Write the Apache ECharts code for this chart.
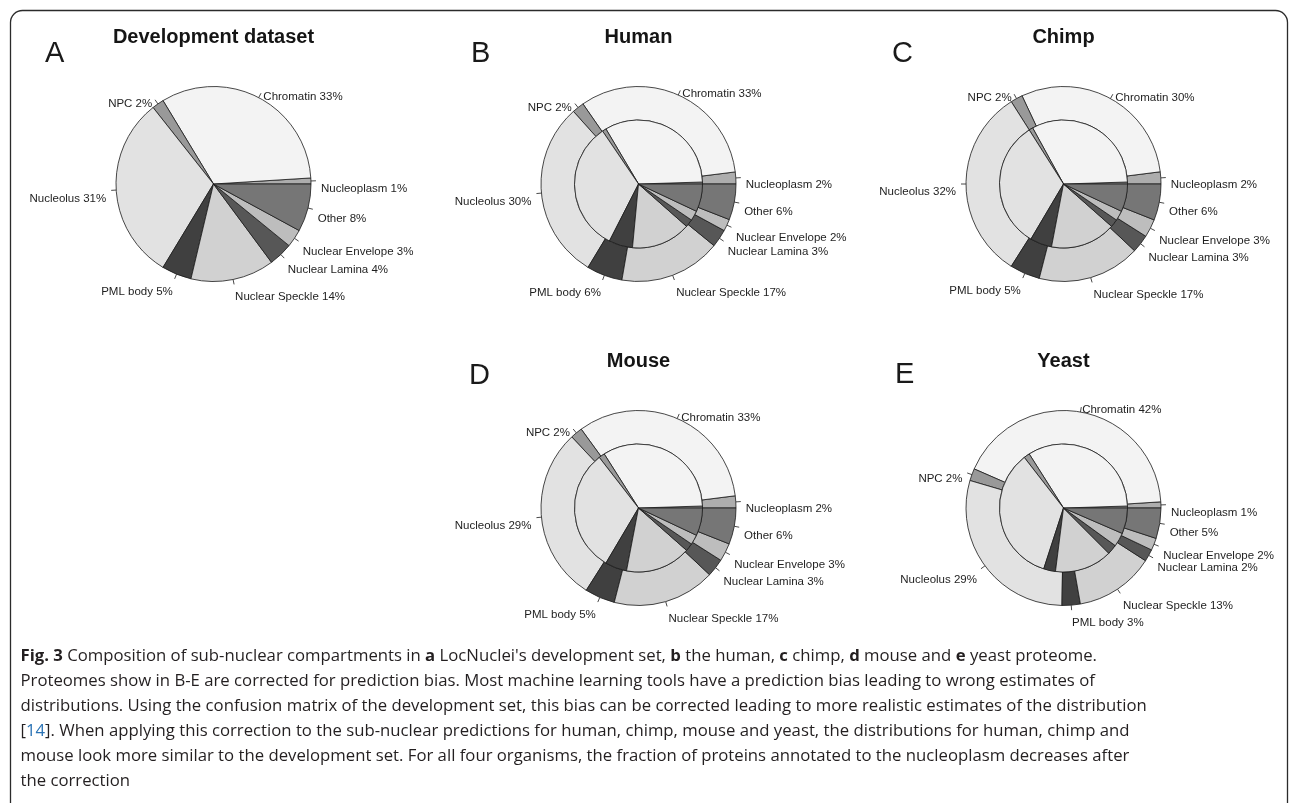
<!DOCTYPE html>
<html>
<head>
<meta charset="utf-8">
<script src="https://cdn.jsdelivr.net/npm/echarts@6/dist/echarts.min.js"></script>
<style>
  html, body { margin: 0; padding: 0; background: #ffffff; }
  #chart { width: 1290px; height: 803px; }
</style>
</head>
<body>
<div id="chart"></div>
<script>
// Sub-nuclear compartments, in the order the slices are laid out
const compartments = ['Nucleoplasm', 'Chromatin', 'NPC', 'Nucleolus', 'PML body',
  'Nuclear Speckle', 'Nuclear Lamina', 'Nuclear Envelope', 'Other'];
const compartmentColors = ['#adadad', '#f3f3f3', '#999999', '#e2e2e2', '#404040',
  '#d1d1d1', '#575757', '#bdbdbd', '#767676'];

// Percentages (outer ring = bias-corrected proteome, inner disc = raw predictions)
const developmentSet  = [1, 33, 2, 31, 5, 14, 4, 3, 8];
const humanCorrected  = [2, 33, 2, 30, 6, 17, 3, 2, 6];
const humanPredicted  = [0.5, 33, 1, 33, 6, 15, 2, 2.5, 7];
const chimpCorrected  = [2, 30, 2, 32, 5, 17, 3, 3, 6];
const chimpPredicted  = [0.5, 32.5, 1, 32.5, 5.5, 16.5, 2, 2.5, 7];
const mouseCorrected  = [2, 33, 2, 29, 5, 17, 3, 3, 6];
const mousePredicted  = [0.5, 33.5, 1.5, 31, 5.5, 16.5, 2, 2.5, 7];
const yeastCorrected  = [1, 42, 2, 29, 3, 13, 2, 2, 5];
const yeastPredicted  = [0.5, 33.5, 1.5, 34.5, 3, 14.5, 2.5, 3.5, 6.5];

const panelLetters = ['A', 'B', 'C', 'D', 'E'];
const panelTitles = ['Development dataset', 'Human', 'Chimp', 'Mouse', 'Yeast'];

const captionLines = [
  "{b|Fig. 3} Composition of sub-nuclear compartments in {b|a} LocNuclei's development set, {b|b} the human, {b|c} chimp, {b|d} mouse and {b|e} yeast proteome.",
  'Proteomes show in B-E are corrected for prediction bias. Most machine learning tools have a prediction bias leading to wrong estimates of',
  'distributions. Using the confusion matrix of the development set, this bias can be corrected leading to more realistic estimates of the distribution',
  '[{l|14}]. When applying this correction to the sub-nuclear predictions for human, chimp, mouse and yeast, the distributions for human, chimp and',
  'mouse look more similar to the development set. For all four organisms, the fraction of proteins annotated to the nucleoplasm decreases after',
  'the correction'
];

// Panel geometry
const R_OUT = 97.5;
const R_IN = 64;
const panels = [
  { outer: developmentSet, inner: null,           cx: 213.5,  cy: 184, letterX: 45,  letterY: 53.5, titleY: 37.5 },
  { outer: humanCorrected, inner: humanPredicted, cx: 638.5,  cy: 184, letterX: 471, letterY: 53.5, titleY: 37.5 },
  { outer: chimpCorrected, inner: chimpPredicted, cx: 1063.5, cy: 184, letterX: 892, letterY: 53.5, titleY: 37.5 },
  { outer: mouseCorrected, inner: mousePredicted, cx: 638.5,  cy: 508, letterX: 469, letterY: 376,  titleY: 361 },
  { outer: yeastCorrected, inner: yeastPredicted, cx: 1063.5, cy: 508, letterX: 895, letterY: 375,  titleY: 361 }
];

const LABEL_FONT = 'Liberation Sans, Arial, Helvetica, sans-serif';
const CAPTION_FONT = 'Open Sans, Noto Sans, sans-serif';

function pieData(values) {
  return compartments.map((name, i) => ({ name: name, value: values[i] }));
}

const sliceStyle = {
  borderColor: '#1a1a1a',
  borderWidth: 0.8,
  color: p => compartmentColors[p.dataIndex]
};

const series = [];
panels.forEach(p => {
  series.push({
    type: 'pie',
    center: [p.cx, p.cy],
    radius: p.inner ? [R_IN, R_OUT] : [0, R_OUT],
    startAngle: 0,
    clockwise: false,
    avoidLabelOverlap: false,
    animation: false,
    silent: true,
    itemStyle: sliceStyle,
    label: {
      show: true,
      position: 'outside',
      formatter: q => q.name + ' ' + q.value + '%',
      fontFamily: LABEL_FONT,
      fontSize: 11.5,
      lineHeight: 16,
      color: '#1e1e1e',
      distanceToLabelLine: 0
    },
    // text hangs just below the end of each tick, as in base-graphics pies;
    // neighbouring labels are allowed to sit close together
    labelLayout: { verticalAlign: 'top', hideOverlap: false, moveOverlap: null },
    labelLine: {
      show: true,
      length: 10,
      length2: 0,
      smooth: false,
      lineStyle: { color: '#1a1a1a', width: 0.8, type: [5, 60] }
    },
    emphasis: { disabled: true },
    data: pieData(p.outer)
  });
  if (p.inner) {
    series.push({
      type: 'pie',
      center: [p.cx, p.cy],
      radius: [0, R_IN],
      startAngle: 0,
      clockwise: false,
      animation: false,
      silent: true,
      z: 3,
      itemStyle: sliceStyle,
      label: { show: false },
      labelLine: { show: false },
      emphasis: { disabled: true },
      data: pieData(p.inner)
    });
  }
});

// Fit the caption font so the longest line spans the text column
const measureCtx = document.createElement('canvas').getContext('2d');
measureCtx.font = '100px ' + CAPTION_FONT;
const captionSize = 100 * 1127 / measureCtx.measureText(captionLines[2]).width;

const graphics = [
  {
    type: 'rect',
    shape: { x: 10.5, y: 10.5, width: 1277, height: 900, r: 12 },
    style: { fill: 'none', stroke: '#2b2b2b', lineWidth: 1.3 },
    silent: true
  }
];

panels.forEach((p, i) => {
  graphics.push({
    type: 'text',
    style: {
      text: panelLetters[i], x: p.letterX, y: p.letterY,
      fontFamily: LABEL_FONT, fontSize: 29, fill: '#1a1a1a',
      align: 'left', verticalAlign: 'middle'
    },
    silent: true
  });
  graphics.push({
    type: 'text',
    style: {
      text: panelTitles[i], x: p.cx, y: p.titleY,
      fontFamily: LABEL_FONT, fontSize: 20, fontWeight: 'bold', fill: '#151515',
      align: 'center', verticalAlign: 'middle'
    },
    silent: true
  });
});

captionLines.forEach((line, k) => {
  graphics.push({
    type: 'text',
    style: {
      text: line,
      x: 20.5,
      y: 656.5 + k * 25,
      fontFamily: CAPTION_FONT,
      fontSize: captionSize,
      fill: '#231f20',
      align: 'left',
      verticalAlign: 'middle',
      rich: {
        b: { fontFamily: CAPTION_FONT, fontSize: captionSize, fontWeight: 'bold', fill: '#231f20' },
        l: { fontFamily: CAPTION_FONT, fontSize: captionSize, fill: '#2a73b5' }
      }
    },
    silent: true
  });
});

const chart = echarts.init(document.getElementById('chart'), null, { renderer: 'canvas' });
chart.setOption({
  backgroundColor: '#ffffff',
  animation: false,
  series: series,
  graphic: graphics
});
</script>
</body>
</html>
